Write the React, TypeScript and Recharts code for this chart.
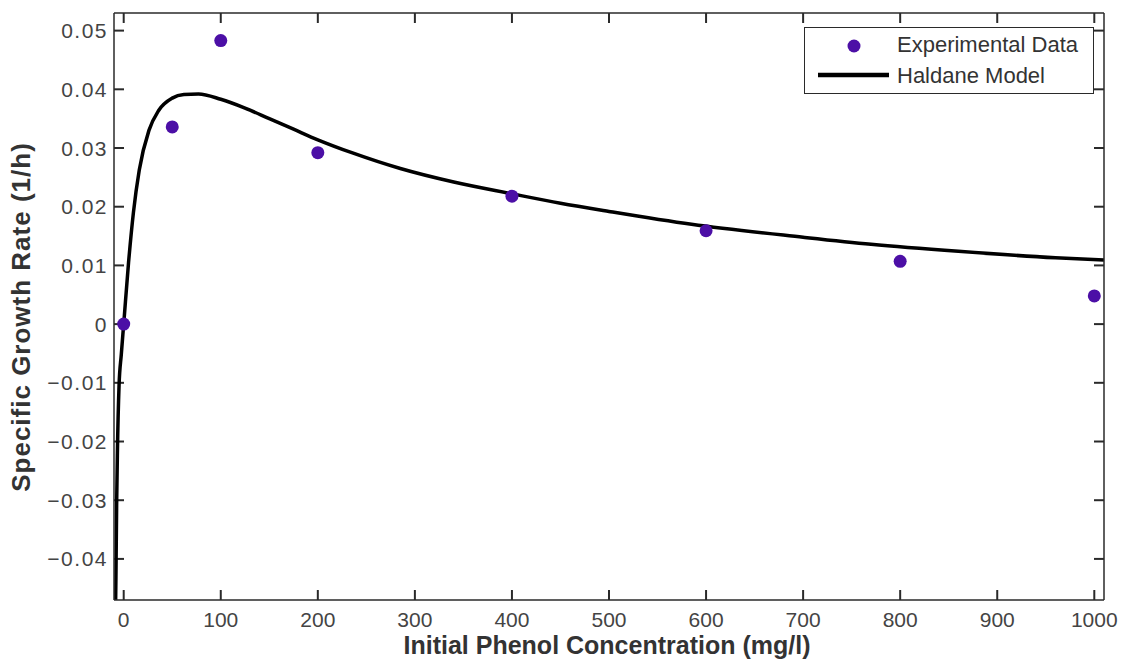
import React from 'react';
import { ComposedChart, Line, Scatter, XAxis, YAxis, Legend, ReferenceLine } from 'recharts';

// experimental points
const expX = [0, 50, 100, 200, 400, 600, 800, 1000];
const expY = [0, 0.0336, 0.0483, 0.0292, 0.0218, 0.0159, 0.0107, 0.0048];

// Haldane model curve
const modelX = [-8.3, -8, -7.3, -6.5, -4.8, -2.5, 0, 5, 10, 16, 26, 36, 50, 62, 77, 100, 125, 150, 175, 200, 235, 285, 340, 400, 450, 500, 585, 700, 770, 860, 960, 1010];
const modelY = [-0.047, -0.043, -0.031, -0.022, -0.0105, -0.0052, 0, 0.0105, 0.019, 0.0262, 0.033, 0.0364, 0.0385, 0.0391, 0.0392, 0.0383, 0.0368, 0.035, 0.0332, 0.0314, 0.0292, 0.0265, 0.0242, 0.0222, 0.0206, 0.0192, 0.017, 0.0148, 0.0136, 0.0124, 0.0113, 0.0109];

const xTicks = [0, 100, 200, 300, 400, 500, 600, 700, 800, 900, 1000];
const yTicks = [-0.04, -0.03, -0.02, -0.01, 0, 0.01, 0.02, 0.03, 0.04, 0.05];

const X_DOMAIN = [-10, 1010];
const Y_DOMAIN = [-0.047, 0.053];

const expData = expX.map((x, i) => ({ x, y: expY[i] }));
const modelData = modelX.map((x, i) => ({ x, y: modelY[i] }));

const AXIS = '#2a2a2a';
const TICK_TEXT = '#444';
const DOT = '#4c0fa6';
const FONT = '"Liberation Sans", Arial, sans-serif';
const TICK_LEN = 10;
// inward tick length expressed in axis units (about 10px each way)
const TICK_DX = 10.3;
const TICK_DY = 0.0017;

const fmtY = (v: number) => {
  if (Math.abs(v) < 1e-9) return '0';
  const s = Math.abs(v).toFixed(2);
  return v < 0 ? '\u2212' + s : s;
};

const bottomTick = (props: any) => (
  <text x={Number(props.x)} y={Number(props.y) + 27} textAnchor="middle" fontSize={21} fill={TICK_TEXT} fontFamily={FONT}>
    {props.payload.value}
  </text>
);

const leftTick = (props: any) => (
  <text x={Number(props.x) - 6} y={Number(props.y)} dy="0.36em" textAnchor="end" fontSize={21} letterSpacing={1.5} fill={TICK_TEXT} fontFamily={FONT}>
    {fmtY(props.payload.value)}
  </text>
);

const rightTick = (props: any) => {
  const x = Number(props.x);
  const y = Number(props.y);
  return <line x1={x} y1={y} x2={x - TICK_LEN} y2={y} stroke={AXIS} strokeWidth={2} />;
};

const Dot = (props: any) => <circle cx={props.cx} cy={props.cy} r={6.5} fill={DOT} />;

const LegendBox = () => (
  <div
    style={{
      width: 290,
      height: 67,
      boxSizing: 'border-box',
      border: `1.5px solid ${AXIS}`,
      background: '#fff',
      position: 'relative',
      fontFamily: FONT,
      fontSize: 22,
      color: '#333',
    }}
  >
    <svg width={90} height={67} style={{ position: 'absolute', left: 0, top: 0 }}>
      <circle cx={49} cy={18} r={6.5} fill={DOT} />
      <line x1={13} y1={47} x2={84} y2={47} stroke="#000" strokeWidth={4.5} />
    </svg>
    <div style={{ position: 'absolute', left: 92, top: 4, lineHeight: '26px', whiteSpace: 'nowrap' }}>Experimental Data</div>
    <div style={{ position: 'absolute', left: 92, top: 35, lineHeight: '26px', whiteSpace: 'nowrap' }}>Haldane Model</div>
  </div>
);

// both axis titles, hung on the (tickless) top axis
const AxisTitles = () => (
  <g>
    <text x={607} y={654} textAnchor="middle" fontSize={25} fontWeight="bold" fill="#333" fontFamily={FONT}>
      Initial Phenol Concentration (mg/l)
    </text>
    <text
      x={30}
      y={317}
      transform="rotate(-90, 30, 317)"
      textAnchor="middle"
      fontSize={26}
      letterSpacing={1}
      fontWeight="bold"
      fill="#333"
      fontFamily={FONT}
    >
      Specific Growth Rate (1/h)
    </text>
  </g>
);

const axisLine = { stroke: AXIS, strokeWidth: 1.5 };

export default function App() {
  const [x0, x1] = X_DOMAIN;
  const [y0, y1] = Y_DOMAIN;
  return (
    <div style={{ position: 'absolute', left: 0, top: 0, width: 1130, height: 664, background: '#fff' }}>
      <ComposedChart width={1130} height={664} margin={{ top: 12, right: 25, bottom: 0, left: 0 }}>
        <XAxis
          xAxisId="bottom"
          dataKey="x"
          type="number"
          domain={X_DOMAIN}
          ticks={xTicks}
          allowDataOverflow
          height={64}
          tickSize={0}
          tickMargin={0}
          tickLine={false}
          axisLine={axisLine}
          tick={bottomTick}
          interval={0}
        />
        <XAxis
          xAxisId="top"
          orientation="top"
          dataKey="x"
          type="number"
          domain={X_DOMAIN}
          ticks={xTicks}
          allowDataOverflow
          height={1}
          tickSize={0}
          tickLine={false}
          axisLine={axisLine}
          tick={false}
          interval={0}
          label={<AxisTitles />}
        />
        <YAxis
          yAxisId="left"
          dataKey="y"
          type="number"
          domain={Y_DOMAIN}
          ticks={yTicks}
          allowDataOverflow
          width={114}
          tickSize={0}
          tickMargin={0}
          tickLine={false}
          axisLine={axisLine}
          tick={leftTick}
          interval={0}
        />
        <YAxis
          yAxisId="right"
          orientation="right"
          dataKey="y"
          type="number"
          domain={Y_DOMAIN}
          ticks={yTicks}
          allowDataOverflow
          width={1}
          tickSize={0}
          tickMargin={0}
          tickLine={false}
          axisLine={axisLine}
          tick={rightTick}
          interval={0}
        />
        {/* inward tick marks on bottom, top and left edges */}
        {xTicks.map((t) => (
          <ReferenceLine
            key={`xb-${t}`}
            xAxisId="bottom"
            yAxisId="left"
            segment={[{ x: t, y: y0 }, { x: t, y: y0 + TICK_DY }]}
            stroke={AXIS}
            strokeWidth={2}
          />
        ))}
        {xTicks.map((t) => (
          <ReferenceLine
            key={`xt-${t}`}
            xAxisId="bottom"
            yAxisId="left"
            segment={[{ x: t, y: y1 }, { x: t, y: y1 - TICK_DY }]}
            stroke={AXIS}
            strokeWidth={2}
          />
        ))}
        {yTicks.map((t) => (
          <ReferenceLine
            key={`yl-${t}`}
            xAxisId="bottom"
            yAxisId="left"
            segment={[{ x: x0, y: t }, { x: x0 + TICK_DX, y: t }]}
            stroke={AXIS}
            strokeWidth={2}
          />
        ))}
        <Legend
          layout="horizontal"
          verticalAlign="middle"
          align="center"
          wrapperStyle={{ left: 804, top: 27, width: 290, height: 67 }}
          content={<LegendBox />}
        />
        <Line
          xAxisId="bottom"
          yAxisId="left"
          data={modelData}
          dataKey="y"
          type="monotone"
          stroke="#000"
          strokeWidth={3.5}
          dot={false}
          activeDot={false}
          isAnimationActive={false}
          name="Haldane Model"
        />
        <Scatter
          xAxisId="bottom"
          yAxisId="left"
          data={expData}
          dataKey="y"
          fill={DOT}
          shape={<Dot />}
          isAnimationActive={false}
          name="Experimental Data"
        />
      </ComposedChart>
    </div>
  );
}
